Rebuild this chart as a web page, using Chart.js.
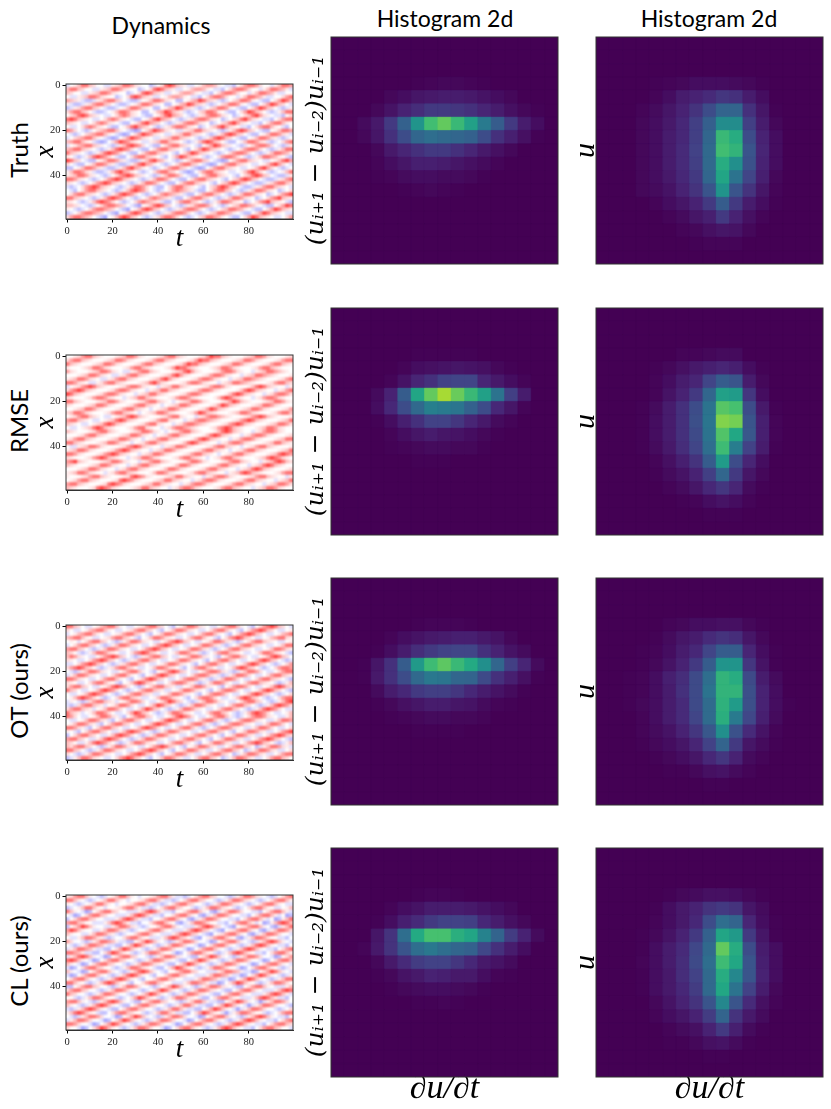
<!DOCTYPE html>
<html lang="en">
<head>
<meta charset="UTF-8">
<title>Dynamics and histograms</title>
<script src="https://cdn.jsdelivr.net/npm/chart.js"></script>
<style>
  html, body { margin: 0; background: #fff; }
  #page { position: relative; width: 831px; height: 1109px; overflow: hidden; }
  canvas { position: absolute; }
  .label { position: absolute; white-space: nowrap; color: #000; font-family: Lato, sans-serif; }
</style>
</head>
<body>
<div id="page"></div>
<script>
const rowNames = ['Truth', 'RMSE', 'OT (ours)', 'CL (ours)'];
const tickValuesT = [0, 20, 40, 60, 80];
const tickValuesX = [0, 20, 40];

// one character per cell, 60 x 36 cells. 3 is white, lower is blue, higher is red
const levelValues = [-0.36, -0.25, -0.12, 0, 0.07, 0.15, 0.26, 0.39, 0.56, 0.76];

const truthDynamics = [
"234688653322456887543312358986542234677643221357887533246887642233578876",
"688653322456887543312358986542234677643221357887533246887642233578876",
"653322456887543312358986542234677643221357887533246887642233578876",
"322456887543312358986542234677643221357887533246887642233578876",
"765421124578865321123468875431134679865421235688743211357986532124688754",
"421124578865321123468875431134679865421235688743211357986532124688754",
"124578865321123468875431134679865421235688743211357986532124688754",
"578865321123468875431134679865421235688743211357986532124688754",
"356898654322357875432113468976532124578875431235689754322135788643213578",
"898654322357875432113468976532124578875431235689754322135788643213578",
"654322357875432113468976532124578875431235689754322135788643213578",
"322357875432113468976532124578875431235689754322135788643213578",
"875321235678864321013579875432245688654321246898653211346887542123578865",
"321235678864321013579875432245688654321246898653211346887542123578865",
"235678864321013579875432245688654321246898653211346887542123578865",
"678864321013579875432245688654321246898653211346887542123578865",
"234678865432124689875321135788654321357986543212357887532124688764321346",
"678865432124689875321135788654321357986543212357887532124688764321346",
"865432124689875321135788654321357986543212357887532124688764321346",
"432124689875321135788654321357986543212357887532124688764321346",
"986532113468875421124689764321235788653210135788654322346897532123468875",
"532113468875421124689764321235788653210135788654322346897532123468875",
"113468875421124689764321235788653210135788654322346897532123468875",
"468875421124689764321235788653210135788654322346897532123468875",
"456887543212357898654321246887532113578865432135689865321124578865432235",
"887543212357898654321246887532113578865432135689865321124578865432235",
"543212357898654321246887532113578865432135689865321124578865432235",
"212357898654321246887532113578865432135689865321124578865432235",
"321357886543212468987532123578765421135788653212468875431235789654321246",
"357886543212468987532123578765421135788653212468875431235789654321246",
"886543212468987532123578765421135788653212468875431235789654321246",
"543212468987532123578765421135788653212468875431235789654321246",
"665432123578876532103468986532124578875321235688764321135798654322357887",
"432123578876532103468986532124578875321235688764321135798654322357887",
"123578876532103468986532124578875321235688764321135798654322357887",
"578876532103468986532124578875321235688764321135798654322357887"
];

const rmseDynamics = [
"334578865433345688754333457886543334579886543334568875433345788654333458",
"578865433345688754333457886543334579886543334568875433345788654333458",
"865433345688754333457886543334579886543334568875433345788654333458",
"433345688754333457886543334579886543334568875433345788654333458",
"754333456887543224578865433345689754333457887543324568876543334578865433",
"333456887543224578865433345689754333457887543324568876543334578865433",
"456887543224578865433345689754333457887543324568876543334578865433",
"887543224578865433345689754333457887543324568876543334578865433",
"234578986543334578875433245688654333457887543333468986543324578875433345",
"578986543334578875433245688654333457887543333468986543324578875433345",
"986543334578875433245688654333457887543333468986543324578875433345",
"543334578875433245688654333457887543333468986543324578875433345",
"886543334568875433345788654323456887543334579865433345688754333457886543",
"543334568875433345788654323456887543334579865433345688754333457886543",
"334568875433345788654323456887543334579865433345688754333457886543",
"568875433345788654323456887543334579865433345688754333457886543",
"345788654322345689865433345788543324578876543334578986543334568875433245",
"788654322345689865433345788543324578876543334578986543334568875433245",
"654322345689865433345788543324578876543334578986543334568875433245",
"322345689865433345788543324578876543334578986543334568875433245",
"654333457886543334568875432345788654333468986543324578875433345688654333",
"333457886543334568875432345788654333468986543324578875433345688654333",
"457886543334568875432345788654333468986543324578875433345688654333",
"886543334568875432345788654333468986543324578875433345688654333",
"322456887543334578986543324568875433345788654323457886543334568987543334",
"456887543334578986543324568875433345788654323457886543334568987543334",
"887543334578986543324568875433345788654323457886543334568987543334",
"543334578986543324568875433345788654323457886543334568987543334",
"789654333456887543324578865433346887543334578865433245689865433345788543",
"654333456887543324578865433346887543334578865433245689865433345788543",
"333456887543324578865433346887543334578865433245689865433345788543",
"456887543324578865433346887543334578865433245689865433345788543",
"433345788654333458987543334568865433245788754333457886543324568875433345",
"345788654333458987543334568865433245788754333457886543324568875433345",
"788654333458987543334568865433245788754333457886543324568875433345",
"654333458987543334568865433245788754333457886543324568875433345"
];

const otDynamics = [
"886532234678864322345788653213468875432235788643213578986532234678854322",
"532234678864322345788653213468875432235788643213578986532234678854322",
"234678864322345788653213468875432235788643213578986532234678854322",
"678864322345788653213468875432235788643213578986532234678854322",
"343235788653212468875432235789865322346887542123578865432234688754321357",
"235788653212468875432235789865322346887542123578865432234688754321357",
"788653212468875432235789865322346887542123578865432234688754321357",
"653212468875432235789865322346887542123578865432234688754321357",
"687543223578986532124578865322346887543213578865322346898653212357887543",
"543223578986532124578865322346887543213578865322346898653212357887543",
"223578986532124578865322346887543213578865322346898653212357887543",
"578986532124578865322346887543213578865322346898653212357887543",
"321246887543223578864321346898653223578875421246887532235788654321246887",
"246887543223578864321346898653223578875421246887532235788654321246887",
"887543223578864321346898653223578875421246887532235788654321246887",
"543223578864321346898653223578875421246887532235788654321246887",
"578865322346898753212357886542234688754321357887532234689865321235788654",
"865322346898753212357886542234688754321357887532234689865321235788654",
"322346898753212357886542234688754321357887532234689865321235788654",
"346898753212357886542234688754321357887532234689865321235788654",
"243212578865423468875322357986532124688754322357886532124689875322346887",
"212578865423468875322357986532124688754322357886532124689875322346887",
"578865423468875322357986532124688754322357886532124689875322346887",
"865423468875322357986532124688754322357886532124689875322346887",
"875322346887542135788653223468987532235788642123578875432246887532235788",
"322346887542135788653223468987532235788642123578875432246887532235788",
"346887542135788653223468987532235788642123578875432246887532235788",
"887542135788653223468987532235788642123578875432246887532235788",
"432135788653224689875321246887543223578865321346887542235789865321246887",
"135788653224689875321246887543223578865321346887542235789865321246887",
"788653224689875321246887543223578865321346887542235789865321246887",
"653224689875321246887543223578865321346887542235789865321246887",
"657886532124688754322357898653213468875422357886531246887542235788653212",
"886532124688754322357898653213468875422357886531246887542235788653212",
"532124688754322357898653213468875422357886531246887542235788653212",
"124688754322357898653213468875422357886531246887542235788653212"
];

const clDynamics = [
"457886432123468864323345788642212357886533212468875432123578864322346887",
"886432123468864323345788642212357886533212468875432123578864322346887",
"432123468864323345788642212357886533212468875432123578864322346887",
"123468864323345788642212357886533212468875432123578864322346887",
"864320135788653322246898642213357886431024688753322135788642301468986432",
"320135788653322246898642213357886431024688753322135788642301468986432",
"135788653322246898642213357886431024688753322135788642301468986432",
"788653322246898642213357886431024688753322135788642301468986432",
"135798643322468875421233578864322246898653210345788643102468875332213578",
"798643322468875421233578864322246898653210345788643102468875332213578",
"643322468875421233578864322246898653210345788643102468875332213578",
"322468875421233578864322246898653210345788643102468875332213578",
"753321246887642211357986432124688753320135788643212468986432213578864310",
"321246887642211357986432124688753320135788643212468986432213578864310",
"246887642211357986432124688753320135788643212468986432213578864310",
"887642211357986432124688753320135788643212468986432213578864310",
"246898643201357886533212468875432113579864321246887533201357886432124688",
"898643201357886533212468875432113579864321246887533201357886432124688",
"643201357886533212468875432113579864321246887533201357886432124688",
"201357886533212468875432113579864321246887533201357886432124688",
"643201357886432124689864321335788653322246887642201357986432124688753321",
"201357886432124689864321335788653322246887642201357986432124688753321",
"357886432124689864321335788653322246887642201357986432124688753321",
"886432124689864321335788653322246887642201357986432124688753321",
"113578865332124688753321235798643212468875432113578864322246898642213357",
"578865332124688753321235798643212468875432113578864322246898642213357",
"865332124688753321235798643212468875432113578864322246898642213357",
"332124688753321235798643212468875432113578864322246898642213357",
"788643212468986432113578865332124688642211357986432024688753321235788643",
"643212468986432113578865332124688642211357986432024688753321235788643",
"212468986432113578865332124688642211357986432024688753321235788643",
"468986432113578865332124688642211357986432024688753321235788643",
"321246887533201357986432124688753320135788643212468986432213578865332124",
"246887533201357986432124688753320135788643212468986432213578865332124",
"887533201357986432124688753320135788643212468986432213578865332124",
"533201357986432124688753320135788643212468986432213578865332124"
];

// histogram counts in percent of the colour range, 17 x 17 bins
const E = [0,0,0,0,0,0,0,0,0,0,0,0,0,0,0,0,0];

const truthFluxHist = [E,E,E,
[0,0,0,0,0,0,1,2,3,3,2,1,0,0,0,0,0],
[0,0,0,0,3,5,8,9,10,10,9,7,5,3,0,0,0],
[0,0,0,3,7,12,16,20,20,19,17,13,10,6,3,1,0],
[0,0,4,9,20,35,55,72,78,70,60,45,33,20,10,5,0],
[0,0,3,8,17,27,37,40,38,37,35,27,17,11,6,1,0],
[0,0,0,3,9,13,17,20,20,17,13,9,6,3,0,0,0],
[0,0,0,2,5,8,11,11,10,8,6,4,2,0,0,0,0],
[0,0,0,1,2,4,5,5,4,4,3,1,0,0,0,0,0],
[0,0,0,0,0,1,2,3,2,1,0,0,0,0,0,0,0],
E,E,E,E,E];

const truthValueHist = [E,E,E,
[0,0,0,0,1,2,3,5,5,5,4,3,1,0,0,0,0],
[0,0,0,0,2,5,10,12,15,19,17,10,5,0,0,0,0],
[0,0,0,2,4,8,12,18,27,36,36,17,8,1,0,0,0],
[0,0,0,3,5,9,14,22,34,52,52,22,10,3,0,0,0],
[0,0,0,3,5,10,14,22,37,70,65,27,12,5,0,0,0],
[0,0,0,3,5,10,15,23,38,72,68,30,13,5,0,0,0],
[0,0,0,3,5,10,15,22,38,65,53,29,12,5,0,0,0],
[0,0,0,3,5,9,14,20,37,62,42,24,11,3,0,0,0],
[0,0,0,3,4,7,12,18,30,55,30,18,8,2,0,0,0],
[0,0,0,0,2,5,8,12,20,33,20,10,5,1,0,0,0],
[0,0,0,0,0,2,4,8,11,20,12,6,2,0,0,0,0],
[0,0,0,0,0,0,2,3,6,8,7,3,0,0,0,0,0],
[0,0,0,0,0,0,0,1,2,2,2,0,0,0,0,0,0],
E];

const rmseFluxHist = [E,E,E,
[0,0,0,0,0,0,1,1,1,1,1,0,0,0,0,0,0],
[0,0,0,0,0,2,5,6,7,8,7,6,3,1,0,0,0],
[0,0,0,0,2,7,13,17,23,24,24,13,9,5,2,0,0],
[0,0,0,4,12,33,62,78,88,79,70,60,42,22,10,0,0],
[0,0,0,5,14,27,38,47,45,43,35,27,14,8,2,0,0],
[0,0,0,1,5,11,17,23,23,19,13,9,4,2,0,0,0],
[0,0,0,0,2,5,8,10,8,7,5,3,1,0,0,0,0],
[0,0,0,0,1,2,3,4,4,3,3,1,0,0,0,0,0],
[0,0,0,0,0,0,1,1,1,0,0,0,0,0,0,0,0],
E,E,E,E,E];

const rmseValueHist = [E,E,E,
[0,0,0,0,0,0,2,2,3,4,4,0,0,0,0,0,0],
[0,0,0,0,1,3,6,9,11,13,11,5,1,0,0,0,0],
[0,0,0,0,2,5,10,13,24,33,30,10,3,0,0,0,0],
[0,0,0,0,2,7,12,20,37,60,58,19,5,0,0,0,0],
[0,0,0,1,4,10,17,27,42,76,73,27,9,1,0,0,0],
[0,0,0,1,5,10,17,28,43,83,81,30,11,2,0,0,0],
[0,0,0,1,5,10,17,26,42,75,63,31,11,2,0,0,0],
[0,0,0,1,4,9,16,24,40,71,46,23,10,1,0,0,0],
[0,0,0,0,2,6,11,18,33,58,27,13,5,0,0,0,0],
[0,0,0,0,1,4,7,12,22,37,20,8,3,0,0,0,0],
[0,0,0,0,0,2,4,8,14,19,13,4,1,0,0,0,0],
[0,0,0,0,0,0,1,2,5,7,5,2,0,0,0,0,0],
[0,0,0,0,0,0,0,0,1,1,1,0,0,0,0,0,0],
E];

const otFluxHist = [E,E,E,
[0,0,0,0,0,0,1,2,2,2,1,0,0,0,0,0,0],
[0,0,0,0,2,5,7,9,10,11,11,9,7,3,0,0,0],
[0,0,0,1,5,10,16,20,23,24,24,17,12,7,4,0,0],
[0,0,1,8,17,33,57,71,77,70,64,53,37,22,13,4,0],
[0,0,1,9,17,27,38,44,43,37,36,26,17,11,6,1,0],
[0,0,0,4,10,14,20,22,22,19,14,10,7,4,1,0,0],
[0,0,0,1,3,6,8,10,10,8,7,4,2,1,0,0,0],
[0,0,0,0,1,2,3,4,4,3,3,2,0,0,0,0,0],
[0,0,0,0,0,0,1,1,1,1,0,0,0,0,0,0,0],
E,E,E,E,E];

const otValueHist = [E,E,E,
[0,0,0,0,0,2,3,5,5,6,6,3,1,0,0,0,0],
[0,0,0,0,1,4,8,10,15,18,16,8,3,0,0,0,0],
[0,0,0,1,2,5,10,14,24,33,33,13,5,1,0,0,0],
[0,0,0,1,3,7,12,20,33,55,55,19,7,1,0,0,0],
[0,0,1,2,5,11,16,26,40,68,65,26,10,4,0,0,0],
[0,0,1,2,5,10,17,26,42,68,68,28,12,5,0,0,0],
[0,0,1,3,5,10,15,26,39,67,58,28,12,5,1,0,0],
[0,0,0,2,5,10,15,24,39,66,45,25,11,4,0,0,0],
[0,0,0,2,4,7,12,19,31,53,29,15,7,2,0,0,0],
[0,0,0,1,3,5,8,13,23,36,20,8,4,1,0,0,0],
[0,0,0,0,1,3,5,8,14,19,12,4,2,0,0,0,0],
[0,0,0,0,0,1,1,3,6,7,4,2,0,0,0,0,0],
[0,0,0,0,0,0,0,0,1,1,0,0,0,0,0,0,0],
E];

const clFluxHist = [E,E,E,
[0,0,0,0,0,0,1,2,2,1,0,0,0,0,0,0,0],
[0,0,0,0,2,5,7,10,10,10,9,7,5,3,0,0,0],
[0,0,0,1,5,11,15,20,23,23,22,14,10,6,3,0,0],
[0,0,0,8,18,40,64,73,73,66,62,48,36,21,12,4,0],
[0,0,2,9,18,30,40,44,40,37,35,25,17,10,5,0,0],
[0,0,0,3,9,15,21,23,23,19,14,9,7,4,0,0,0],
[0,0,0,1,3,7,9,12,11,9,9,5,2,1,0,0,0],
[0,0,0,0,1,3,4,5,5,4,3,1,0,0,0,0,0],
[0,0,0,0,0,0,1,1,2,1,0,0,0,0,0,0,0],
E,E,E,E,E];

const clValueHist = [E,E,E,
[0,0,0,0,0,1,3,4,6,6,5,3,1,0,0,0,0],
[0,0,0,0,1,5,9,12,18,20,18,8,4,0,0,0,0],
[0,0,0,0,2,5,9,14,27,40,36,13,5,1,0,0,0],
[0,0,0,1,3,7,12,20,35,62,57,20,8,1,0,0,0],
[0,0,0,1,5,10,15,25,38,78,65,27,10,5,0,0,0],
[0,0,0,2,5,10,16,26,40,71,63,30,11,5,0,0,0],
[0,0,0,1,5,9,16,23,38,65,50,30,12,5,0,0,0],
[0,0,0,1,5,9,14,21,38,63,42,23,10,3,0,0,0],
[0,0,0,0,3,7,12,18,30,50,30,15,6,2,0,0,0],
[0,0,0,0,2,5,8,12,21,36,18,9,4,0,0,0,0],
[0,0,0,0,0,2,4,6,12,20,11,4,1,0,0,0,0],
[0,0,0,0,0,1,1,3,6,7,4,1,0,0,0,0,0],
[0,0,0,0,0,0,0,0,1,1,0,0,0,0,0,0,0],
E];

const dynamicsRows = [truthDynamics, rmseDynamics, otDynamics, clDynamics];
const fluxRows = [truthFluxHist, rmseFluxHist, otFluxHist, clFluxHist];
const valueRows = [truthValueHist, rmseValueHist, otValueHist, clValueHist];

const viridisStops = [[68,1,84],[72,36,117],[65,68,135],[53,95,141],[42,120,142],[33,145,140],[34,168,132],[68,191,112],[122,209,81],[189,223,38],[253,231,37]];

function viridis(v) {
    // low counts sit a bit darker than a straight scale in the reference
    const p = Math.min(100 * Math.pow(v / 100, 1.12), 99.9) / 10;
    const i = Math.floor(p);
    const f = p - i;
    const a = viridisStops[i], b = viridisStops[i + 1];
    return `rgb(${a[0] + (b[0] - a[0]) * f},${a[1] + (b[1] - a[1]) * f},${a[2] + (b[2] - a[2]) * f})`;
}

function bwr(v) {
    if (v < 0) {
        const c = 255 + v * 255;
        return `rgb(${c},${c},255)`;
    }
    const c = 255 - v * 255;
    return `rgb(255,${c},${c})`;
}

// blur the finished cells a little and draw the frame on top
const cellsFinish = {
    id: 'cellsFinish',
    afterDatasetsDraw(chart, args, opts) {
        const a = chart.chartArea, ctx = chart.ctx;
        ctx.save();
        ctx.beginPath();
        ctx.rect(a.left, a.top, a.width, a.height);
        ctx.clip();
        ctx.filter = `blur(${opts.blur}px)`;
        ctx.drawImage(chart.canvas, a.left, a.top, a.width, a.height, a.left, a.top, a.width, a.height);
        ctx.restore();
        ctx.strokeStyle = '#333';
        ctx.lineWidth = 1;
        ctx.strokeRect(a.left, a.top, a.width, a.height);
    }
};

const baseOptions = {
    responsive: false,
    animation: false,
    devicePixelRatio: 1,
    events: [],
};

function makeCanvas(left, top, width, height) {
    const c = document.createElement('canvas');
    c.width = width;
    c.height = height;
    c.style.left = left + 'px';
    c.style.top = top + 'px';
    document.getElementById('page').appendChild(c);
    return c;
}

function addLabel(html, x, y, rotate, font) {
    const d = document.createElement('div');
    d.className = 'label';
    d.innerHTML = html;
    d.style.left = x + 'px';
    d.style.top = y + 'px';
    d.style.font = font;
    d.style.transform = `translate(-50%,-50%) rotate(${rotate}deg)`;
    document.getElementById('page').appendChild(d);
}

const mathFont = family => ({ family: family, style: 'italic', size: 27, lineHeight: 1.2 });

function drawDynamics(rows, top) {
    const cells = [];
    rows.forEach((row, r) => {
        [...row].slice(0, 60).forEach((ch, c) => {
            cells.push({ x: (c + 0.5) * 100 / 60 - 0.5, y: (r + 0.5) * 60 / 36 - 0.5, v: levelValues[+ch] });
        });
    });
    const tickStyle = {
        ticks: { font: { family: 'Liberation Serif', size: 10.5 }, color: '#222', padding: 2, maxRotation: 0, autoSkip: false },
        grid: { drawOnChartArea: false, tickLength: 3.5, color: '#000' },
        border: { color: '#333' },
    };
    new Chart(makeCanvas(0, top - 4, 310, 135 + 4 + 36), {
        type: 'scatter',
        data: { datasets: [{
            data: cells,
            clip: 0,
            pointStyle: 'rect',
            pointRadius: 3.79 / 2 * Math.SQRT2,
            pointBorderWidth: 0.5,
            pointBackgroundColor: ctx => bwr(ctx.raw.v),
            pointBorderColor: ctx => bwr(ctx.raw.v),
        }] },
        options: {
            ...baseOptions,
            layout: { autoPadding: false, padding: { top: 4, right: 17 } },
            plugins: { legend: { display: false }, tooltip: { enabled: false }, cellsFinish: { blur: 0.9 } },
            scales: {
                x: {
                    ...tickStyle, min: -0.5, max: 99.5,
                    afterBuildTicks: s => { s.ticks = tickValuesT.map(v => ({ value: v })); },
                    afterFit: s => { s.height = 36; s.paddingLeft = 0; s.paddingRight = 0; },
                    title: { display: true, text: 't', font: mathFont('Liberation Serif'), color: '#000', padding: 0 },
                },
                y: {
                    ...tickStyle, min: -0.5, max: 59.5, reverse: true,
                    afterBuildTicks: s => { s.ticks = tickValuesX.map(v => ({ value: v })); },
                    afterFit: s => { s.width = 66; s.paddingTop = 0; s.paddingBottom = 0; },
                    title: { display: true, text: 'x', font: mathFont('Liberation Serif'), color: '#000', padding: { top: 30, bottom: 0 } },
                },
            },
        },
        plugins: [cellsFinish],
    });
}

function drawHist(grid, canvasLeft, axisWidth, top, yTitle, yFont, yPad, showX) {
    const cells = [];
    grid.forEach((row, r) => row.forEach((v, c) => cells.push({ x: c + 0.5, y: r + 0.5, v: v })));
    const hidden = { ticks: { display: false }, grid: { display: false }, border: { display: false } };
    const xHeight = showX ? 32 : 0;
    new Chart(makeCanvas(canvasLeft, top - 2, axisWidth + 227.5 + 4, 2 + 227.5 + 2 + xHeight), {
        type: 'scatter',
        data: { datasets: [{
            data: cells,
            clip: 0,
            pointStyle: 'rect',
            pointRadius: 227.5 / 17 / 2 * Math.SQRT2,
            pointBorderWidth: 0.5,
            pointBackgroundColor: ctx => viridis(ctx.raw.v),
            pointBorderColor: ctx => viridis(ctx.raw.v),
        }] },
        options: {
            ...baseOptions,
            layout: { autoPadding: false, padding: { top: 2, right: 4, bottom: showX ? 0 : 2 } },
            plugins: { legend: { display: false }, tooltip: { enabled: false }, cellsFinish: { blur: 0.6 } },
            scales: {
                x: {
                    ...hidden, min: 0, max: 17, display: showX,
                    afterFit: s => { s.height = xHeight; },
                    title: { display: showX, text: '∂u/∂t', font: { ...mathFont('Liberation Serif'), size: 34 }, color: '#000', padding: 0 },
                },
                y: {
                    ...hidden, min: 0, max: 17, reverse: true,
                    afterFit: s => { s.width = axisWidth; },
                    title: { display: true, text: yTitle, font: yFont, color: '#000', padding: { top: yPad, bottom: 0 } },
                },
            },
        },
        plugins: [cellsFinish],
    });
}

const rowTops = [37, 307.5, 577.5, 847.5];
rowNames.forEach((name, i) => {
    const top = rowTops[i];
    addLabel(name, 18, top + 113, -90, '24px Lato, sans-serif');
    drawDynamics(dynamicsRows[i], top + 47);
    drawHist(fluxRows[i], 300, 31, top, '(uᵢ₊₁ − uᵢ₋₂)uᵢ₋₁', { family: 'DejaVu Serif', style: 'italic', size: 25, lineHeight: 1.2 }, 1, i === 3);
    drawHist(valueRows[i], 566, 30, top, 'u', { ...mathFont('Liberation Serif'), size: 30 }, 2, i === 3);
});

addLabel('Dynamics', 161, 25, 0, '23px Lato, sans-serif');
addLabel('Histogram 2d', 445, 18, 0, '23px Lato, sans-serif');
addLabel('Histogram 2d', 709, 18, 0, '23px Lato, sans-serif');
</script>
</body>
</html>
